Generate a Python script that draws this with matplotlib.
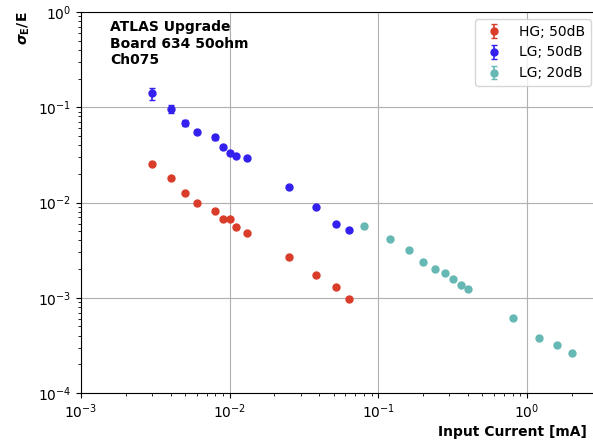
import numpy as np
import matplotlib
matplotlib.use("Agg")
import matplotlib.pyplot as plt

# Input current [mA] and relative energy resolution per gain setting
hg50_current = [0.003, 0.004, 0.005, 0.006, 0.008, 0.009, 0.010, 0.011, 0.013,
                0.025, 0.038, 0.052, 0.063]
hg50_res = [0.0255, 0.0181, 0.0126, 0.0098, 0.0082, 0.0067, 0.0067, 0.0055, 0.0048,
            0.00266, 0.00173, 0.0013, 0.00098]
hg50_err = [0.0008, 0.0006, 0.0004, 0.0003, 0.0003, 0.0002, 0.0002, 0.0002, 0.00015,
            0.00008, 0.00005, 0.00004, 0.00003]

lg50_current = [0.003, 0.004, 0.005, 0.006, 0.008, 0.009, 0.010, 0.011, 0.013,
                0.025, 0.038, 0.052, 0.063]
lg50_res = [0.140, 0.0966, 0.0684, 0.055, 0.0484, 0.0383, 0.0331, 0.031, 0.0291,
            0.0144, 0.0090, 0.0059, 0.0051]
lg50_err = [0.021, 0.0095, 0.0055, 0.003, 0.003, 0.002, 0.0015, 0.0012, 0.001,
            0.0005, 0.0003, 0.0002, 0.00015]

lg20_current = [0.08, 0.12, 0.16, 0.20, 0.24, 0.28, 0.32, 0.36, 0.40,
                0.80, 1.2, 1.6, 2.0]
lg20_res = [0.0056, 0.00414, 0.00315, 0.00239, 0.0020, 0.00182, 0.00157, 0.00136, 0.00123,
            0.000613, 0.000381, 0.000319, 0.000265]
lg20_err = [0.00015, 0.0001, 0.00008, 0.00006, 0.00005, 0.00004, 0.00004, 0.00003, 0.00003,
            0.000015, 0.00001, 0.000008, 0.000007]

series_labels = ["HG; 50dB", "LG; 50dB", "LG; 20dB"]
series_colors = ["#d93d2a", "#3320ee", "#66b8b5"]

fig = plt.figure(figsize=(5.93, 4.41), dpi=100)
ax = fig.add_axes([81 / 593, 1 - 393 / 441, 517 / 593, 381 / 441])

for xs, ys, es, lab, col in zip(
        [hg50_current, lg50_current, lg20_current],
        [hg50_res, lg50_res, lg20_res],
        [hg50_err, lg50_err, lg20_err],
        series_labels, series_colors):
    ax.errorbar(xs, ys, yerr=es, fmt="o", color=col, ecolor=col,
                markersize=5, capsize=2, elinewidth=1.2, label=lab)

ax.set_xscale("log")
ax.set_yscale("log")
ax.set_xlim(1e-3, 3)
ax.set_ylim(1e-4, 1)
ax.grid(True, which="major", color="#b0b0b0", linewidth=0.8)
ax.tick_params(labelsize=10)

ax.legend(loc="upper right", fontsize=10)

ax.text(110 / 593, 1 - 20 / 441, "ATLAS Upgrade\nBoard 634 50ohm\nCh075",
        transform=fig.transFigure, fontsize=10, fontweight="bold",
        va="top", ha="left", linespacing=1.25)

fig.text(587 / 593, 2 / 441, "Input Current [mA]", fontsize=10,
         fontweight="bold", ha="right", va="bottom")
ax.set_ylabel(r"$\boldsymbol{\sigma}_\mathbf{E}$/E", fontsize=10,
              fontweight="bold", loc="top")

fig.savefig("out.png", dpi=100)
